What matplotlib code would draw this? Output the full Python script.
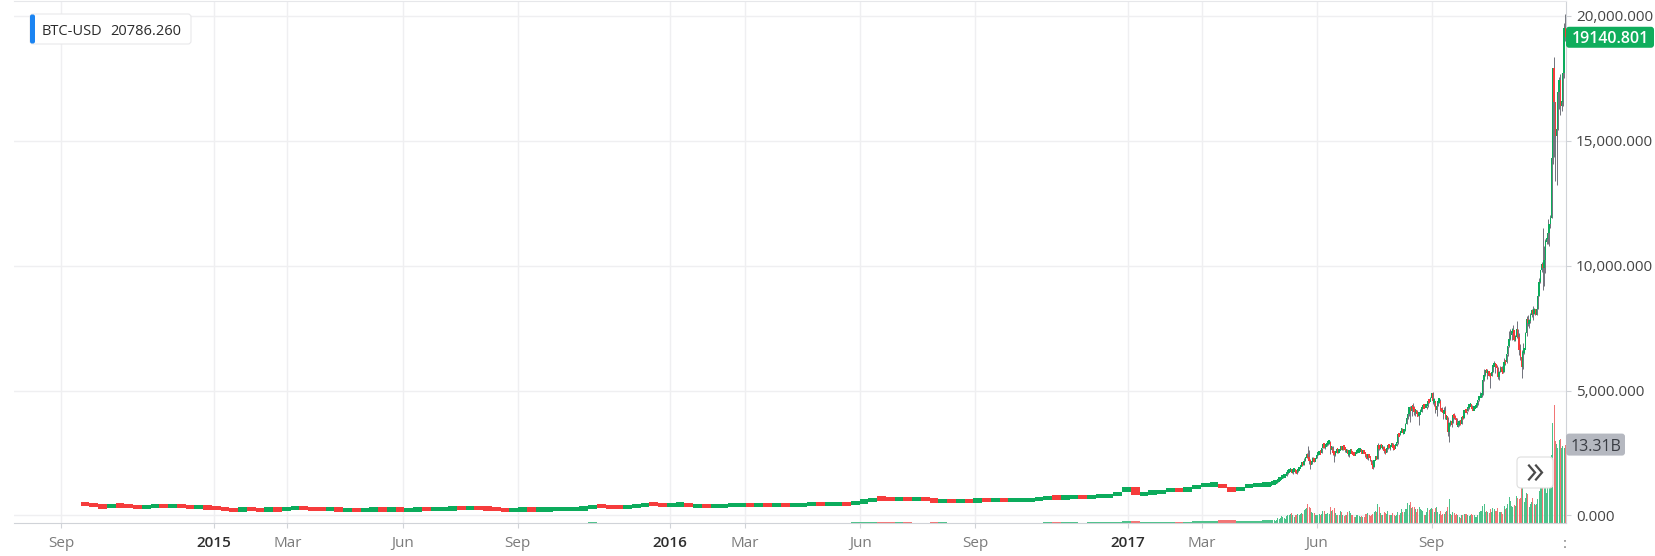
import numpy as np
import pandas as pd
import matplotlib
matplotlib.use("Agg")
import matplotlib.pyplot as plt
import matplotlib.dates as mdates
from matplotlib.patches import FancyBboxPatch
from matplotlib.transforms import IdentityTransform, blended_transform_factory
from matplotlib.lines import Line2D

plt.rcParams['font.family'] = ['Open Sans', 'DejaVu Sans']

# ---------------- data ----------------
TICKER = "BTC-USD"
LEGEND_VALUE = "20786.260"
LAST_PRICE_TEXT = "19140.801"
LAST_VOLUME_TEXT = "13.31B"

# weekly candles (Sep 2014 - Apr 2017), close of each week, USD
weekly_start = "2014-09-17"
weekly_first_open = 465
weekly_close = [
    435, 387, 330, 400, 383, 357, 328, 367, 387, 376,
    381, 352, 327, 334, 311, 286, 225, 211, 263, 227,
    220, 244, 239, 282, 291, 285, 246, 244, 254, 219,
    235, 225, 233, 241, 232, 237, 226, 229, 250, 244,
    263, 270, 288, 277, 294, 285, 270, 232, 221, 228,
    243, 230, 231, 239, 246, 249, 269, 294, 403, 336,
    335, 320, 363, 396, 465, 437, 422, 433, 449, 380,
    392, 373, 373, 401, 419, 432, 412, 416, 412, 424,
    421, 423, 428, 467, 450, 450, 454, 444, 531, 575,
    685, 665, 647, 670, 664, 672, 654, 547, 589, 567,
    583, 576, 610, 609, 609, 606, 610, 618, 638, 657,
    729, 712, 713, 739, 735, 762, 780, 791, 932, 1130,
    800, 900, 922, 970, 1048, 1001, 1080, 1190, 1231, 1240,
    1119, 960, 1141, 1207, 1212, 1265,
]
# average daily volume of each week, millions USD
weekly_volume_m = [
    30, 35, 45, 40, 30, 25, 22, 25, 30, 20,
    18, 15, 20, 15, 12, 15, 40, 60, 40, 30,
    25, 20, 20, 25, 30, 30, 25, 20, 20, 25,
    20, 18, 18, 15, 15, 15, 15, 15, 20, 20,
    20, 25, 25, 20, 20, 20, 30, 35, 25, 20,
    20, 20, 20, 22, 25, 35, 40, 50, 110, 70,
    55, 40, 45, 50, 70, 55, 40, 45, 55, 70,
    50, 60, 55, 60, 70, 65, 60, 55, 50, 45,
    50, 50, 50, 60, 55, 60, 55, 60, 110, 120,
    240, 200, 130, 110, 90, 80, 75, 130, 90, 70,
    60, 60, 65, 60, 55, 55, 60, 60, 70, 75,
    100, 110, 90, 85, 80, 85, 90, 110, 190, 300,
    330, 180, 140, 120, 150, 180, 170, 300, 400, 380,
    500, 450, 420, 350, 380, 450,
]

# daily candles (26 Apr 2017 - 17 Dec 2017)
daily_start = "2017-04-26"
daily_close = [
    1289, 1317, 1317, 1321, 1348,
    1421, 1452, 1490, 1537, 1555, 1578, 1596, 1723, 1755, 1787, 1848, 1724, 1804, 1808, 1739, 1734,
    1839, 1888, 1987, 2084, 2041, 2173, 2320, 2443, 2304, 2202, 2038, 2155, 2255, 2175, 2286,
    2407, 2488, 2515, 2511, 2686, 2863, 2732, 2805, 2823, 2947, 2958, 2659, 2717, 2506, 2464,
    2518, 2655, 2549, 2612, 2745, 2674, 2717, 2710, 2589, 2590, 2478, 2553, 2574, 2539, 2480,
    2434, 2507, 2564, 2601, 2601, 2608, 2518, 2571, 2518, 2373, 2337, 2398, 2357, 2233, 1998, 1929,
    2228, 2318, 2273, 2817, 2667, 2810, 2730, 2754, 2576, 2529, 2671, 2809, 2726, 2757, 2875,
    2718, 2710, 2804, 2895, 3252, 3213, 3378, 3419, 3342, 3381, 3650, 3884, 4073, 4325, 4181, 4376,
    4331, 4160, 4193, 4087, 4001, 4100, 4151, 4334, 4371, 4352, 4382, 4382, 4579, 4565, 4703,
    4892, 4578, 4582, 4236, 4376, 4597, 4599, 4229, 4226, 4122, 4161, 3884, 3961, 3320, 3700,
    3714, 3690, 4035, 3910, 3901, 3631, 3631, 3780, 3660, 3927, 3892, 4200, 4174, 4164, 4338,
    4403, 4409, 4318, 4229, 4328, 4370, 4426, 4611, 4773, 4782, 4820, 5431, 5637, 5828, 5711, 5768,
    5601, 5590, 5708, 6011, 6032, 6008, 5930, 5526, 5750, 5904, 5780, 5753, 6153, 6130, 6468,
    6767, 7078, 7207, 7379, 7407, 7022, 7144, 7459, 7143, 6618, 6357, 5950, 6559, 6635, 7315,
    7871, 7708, 7790, 8036, 8200, 8071, 8253, 8038, 8253, 8791, 9330, 9818, 10058, 9888, 10233,
    10975, 11074, 11323, 11657, 11916, 14291, 17899, 16569, 15178, 15455, 16936, 17415, 16408,
    16565, 17706, 19497, 19141,
]
daily_high = [
    1294, 1332, 1331, 1327, 1352,
    1435, 1473, 1497, 1614, 1599, 1596, 1597, 1737, 1772, 1820, 1870, 1861, 1808, 1830, 1791, 1762,
    1857, 1906, 1987, 2089, 2108, 2290, 2330, 2489, 2760, 2635, 2272, 2329, 2332, 2300, 2311,
    2408, 2491, 2569, 2550, 2686, 2900, 2869, 2822, 2840, 2950, 2975, 2983, 2772, 2786, 2514,
    2526, 2685, 2661, 2622, 2761, 2786, 2730, 2763, 2712, 2644, 2593, 2555, 2608, 2582, 2547,
    2518, 2519, 2596, 2640, 2615, 2616, 2608, 2571, 2573, 2525, 2411, 2412, 2427, 2356, 2232, 2030,
    2231, 2387, 2398, 2900, 2838, 2863, 2814, 2779, 2768, 2610, 2693, 2819, 2813, 2758, 2885,
    2898, 2763, 2811, 2899, 3291, 3274, 3395, 3480, 3422, 3425, 3680, 3950, 4208, 4328, 4397, 4382,
    4485, 4371, 4243, 4211, 4109, 4138, 4255, 4371, 4458, 4379, 4406, 4397, 4625, 4646, 4737,
    4892, 4939, 4714, 4591, 4472, 4647, 4656, 4655, 4323, 4239, 4329, 4395, 3972, 3921, 3733,
    3809, 3748, 4079, 4094, 4032, 3916, 3753, 3814, 3787, 3941, 3975, 4217, 4261, 4188, 4360,
    4403, 4471, 4417, 4359, 4357, 4429, 4461, 4631, 4799, 4922, 4857, 5446, 5857, 5837, 5855, 5788,
    5776, 5609, 5742, 6070, 6194, 6075, 6040, 5935, 5777, 5970, 6001, 5869, 6302, 6214, 6470,
    6768, 7367, 7461, 7492, 7617, 7413, 7207, 7776, 7446, 7312, 6868, 6625, 6882, 6716, 7330,
    7964, 8004, 7871, 8101, 8267, 8370, 8302, 8267, 8336, 8858, 9522, 9818, 10125, 11517, 10801,
    11046, 11287, 11852, 11658, 12033, 14370, 17899, 18353, 16280, 15823, 17405, 17567, 17652,
    17087, 17991, 19716, 20089,
]
daily_low = [
    1255, 1287, 1292, 1304, 1312,
    1346, 1398, 1436, 1490, 1511, 1548, 1536, 1593, 1673, 1742, 1781, 1681, 1662, 1778, 1700, 1675,
    1724, 1840, 1900, 1985, 2011, 2023, 2170, 2317, 2205, 2070, 1850, 2050, 2168, 2130, 2170,
    2283, 2400, 2470, 2491, 2508, 2686, 2688, 2668, 2775, 2822, 2862, 2450, 2632, 2416, 2136,
    2376, 2500, 2510, 2541, 2610, 2631, 2616, 2707, 2550, 2525, 2365, 2332, 2508, 2526, 2468,
    2418, 2412, 2498, 2563, 2559, 2582, 2497, 2493, 2516, 2327, 2264, 2238, 2331, 2181, 1993, 1843,
    1935, 2218, 2242, 2270, 2621, 2654, 2667, 2716, 2480, 2450, 2519, 2651, 2687, 2617, 2724,
    2622, 2669, 2716, 2791, 2874, 3168, 3209, 3356, 3247, 3319, 3374, 3645, 3848, 3989, 3726, 3988,
    4270, 4039, 3970, 4033, 3988, 3601, 4079, 4124, 4306, 4280, 4347, 4249, 4352, 4490, 4568,
    4691, 4470, 4360, 4108, 3972, 4375, 4492, 4179, 4132, 3850, 4142, 3848, 3722, 3166, 2946,
    3561, 3536, 3689, 3868, 3877, 3613, 3554, 3563, 3630, 3675, 3865, 3910, 4123, 4048, 4166,
    4270, 4390, 4254, 4208, 4209, 4319, 4344, 4419, 4561, 4744, 4747, 4822, 5379, 5575, 5462, 5648,
    5575, 5111, 5569, 5724, 5965, 5703, 5723, 5450, 5417, 5749, 5760, 5686, 5732, 6033, 6104,
    6377, 6758, 7002, 7024, 7333, 7000, 6965, 7114, 7057, 6436, 6223, 5519, 5879, 6453, 6672,
    7176, 7600, 7517, 7694, 7962, 7823, 8075, 8038, 8022, 8257, 8775, 9316, 9736, 9009, 9202,
    9694, 10875, 10863, 10771, 11517, 11923, 14057, 14336, 13403, 13226, 15412, 16274, 16039,
    16185, 16395, 17515, 18974,
]
# daily volume, billions USD
daily_volume_b = [
    0.45, 0.50, 0.55, 0.40, 0.45,
    0.80, 0.75, 0.80, 1.2, 1.0, 0.80, 0.70, 1.2, 1.4, 1.3, 1.5, 1.7, 1.3, 1.0, 1.3, 1.3,
    1.5, 1.4, 1.5, 1.7, 1.5, 2.2, 2.4, 2.6, 3.2, 2.8, 2.5, 1.8, 1.7, 1.7, 1.4,
    1.4, 1.4, 1.5, 1.3, 1.5, 2.1, 2.0, 1.5, 1.5, 1.7, 1.5, 2.8, 2.1, 2.2, 2.6,
    1.7, 1.4, 1.4, 1.3, 2.0, 1.8, 1.4, 1.2, 1.3, 1.4, 1.8, 2.0, 1.7, 1.3, 1.3,
    1.1, 1.0, 1.3, 1.4, 1.2, 1.1, 1.2, 1.0, 1.0, 1.5, 1.5, 1.7, 1.4, 1.2, 1.4, 1.5,
    1.8, 2.1, 1.8, 3.2, 2.7, 1.7, 1.4, 1.3, 1.8, 1.7, 1.5, 2.0, 1.4, 1.3, 1.4,
    1.7, 1.3, 1.2, 1.3, 1.8, 1.3, 1.7, 2.4, 1.8, 1.8, 2.4, 2.4, 3.4, 3.0, 3.6, 2.6,
    2.8, 2.8, 2.3, 1.8, 2.3, 2.8, 2.3, 2.2, 2.0, 1.3, 1.3, 1.9, 2.6, 2.2, 2.3,
    2.6, 2.3, 1.9, 2.6, 2.8, 1.9, 1.6, 2.0, 1.3, 1.6, 1.6, 1.8, 2.1, 2.7, 4.1,
    1.5, 1.3, 1.9, 1.7, 1.4, 1.6, 1.3, 1.1, 0.9, 1.3, 1.3, 1.5, 1.5, 1.6, 1.4,
    1.2, 1.4, 1.5, 1.4, 1.3, 1.1, 1.0, 1.3, 1.8, 2.0, 2.1, 2.9, 3.3, 1.9, 2.0, 1.8,
    1.7, 2.3, 1.8, 2.5, 2.4, 2.1, 2.0, 2.5, 1.9, 1.8, 1.8, 1.6, 2.9, 2.4, 2.5,
    3.2, 4.4, 3.8, 2.9, 2.7, 3.1, 2.9, 4.5, 4.2, 4.0, 4.2, 6.6, 5.9, 3.5, 4.2,
    5.1, 5.0, 2.8, 3.3, 3.6, 4.3, 3.3, 3.1, 3.3, 4.1, 5.5, 6.3, 6.8, 7.6, 6.9,
    6.0, 5.1, 6.6, 6.0, 6.3, 11.6, 17.0, 20.0, 13.9, 13.4, 12.7, 14.1, 14.2,
    12.7, 13.0, 12.7, 13.31,
]

price_ticks = [0, 5000, 10000, 15000, 20000]
xtick_dates = ["2014-09-01", "2015-01-01", "2015-03-01", "2015-06-01", "2015-09-01",
               "2016-01-01", "2016-03-01", "2016-06-01", "2016-09-01",
               "2017-01-01", "2017-03-01", "2017-06-01", "2017-09-01"]
xtick_labels = ["Sep", "2015", "Mar", "Jun", "Sep", "2016", "Mar", "Jun", "Sep",
                "2017", "Mar", "Jun", "Sep"]

n_d = len(daily_close)
if not (len(daily_high) == n_d and len(daily_low) == n_d and len(daily_volume_b) == n_d):
    raise SystemExit(f"length mismatch {n_d} {len(daily_high)} {len(daily_low)} {len(daily_volume_b)}")
if len(weekly_volume_m) != len(weekly_close):
    raise SystemExit("weekly length mismatch")

# ---------------- style ----------------
GREEN = "#0cab5c"
RED = "#f53c3c"
VOL_GREEN = "#4cc28a"
VOL_RED = "#f17575"
WICK = "#595c66"
GRID = "#efeff1"
AXIS = "#d0d3d8"
W, H = 1656, 556
L, R, T, B = 14, 1566, 1, 523

# ---------------- build candles ----------------
wk_dates = pd.date_range(weekly_start, periods=len(weekly_close), freq="7D")
wk_x = mdates.date2num(wk_dates) + 3.0
wk_open = np.array([weekly_first_open] + weekly_close[:-1], float)
wk_close = np.array(weekly_close, float)
wk_vol = np.array(weekly_volume_m, float) / 1000.0

dy_dates = pd.date_range(daily_start, periods=n_d, freq="D")
dy_x = mdates.date2num(dy_dates)
dy_open = np.array([weekly_close[-1]] + daily_close[:-1], float)
dy_close = np.array(daily_close, float)
dy_high = np.array(daily_high, float)
dy_low = np.array(daily_low, float)
dy_vol = np.array(daily_volume_b, float)

fig = plt.figure(figsize=(W / 100, H / 100), dpi=100)
fig.patch.set_facecolor("white")
rect = [L / W, (H - B) / H, (R - L) / W, (B - T) / H]
axv = fig.add_axes(rect)
ax = fig.add_axes(rect, sharex=axv)
ax.patch.set_visible(False)

xmin = mdates.date2num(pd.Timestamp("2014-07-25 07:00"))
xmax = mdates.date2num(pd.Timestamp("2017-12-17 12:00"))
ax.set_xlim(xmin, xmax)
ax.set_ylim(-304, 20593)
axv.set_ylim(0, 88.6)

# grid in the background axes
gx = mdates.date2num(pd.to_datetime(xtick_dates))
for x in gx:
    axv.axvline(x, color=GRID, lw=1.0, zorder=0)
htrans = blended_transform_factory(axv.transAxes, ax.transData)
for v in price_ticks:
    axv.add_line(Line2D([0, 1], [v, v], transform=htrans, color=GRID, lw=1.0, zorder=0))

# volume
def vcol(o, c):
    return np.where(c >= o, VOL_GREEN, VOL_RED)

axv.bar(wk_x, wk_vol, width=7.0, color=vcol(wk_open, wk_close), linewidth=0, zorder=1)
axv.bar(dy_x, dy_vol, width=0.85, color=vcol(dy_open, dy_close), linewidth=0, zorder=1)

# candles
ppu = ax.bbox.height / (ax.get_ylim()[1] - ax.get_ylim()[0])
minh = 4.3 / ppu

def bodies(o, c):
    lo = np.minimum(o, c)
    h = np.abs(c - o)
    mid = (o + c) / 2
    small = h < minh
    lo = np.where(small, mid - minh / 2, lo)
    h = np.where(small, minh, h)
    col = np.where(c >= o, GREEN, RED)
    return lo, h, col

ax.vlines(dy_x, dy_low, dy_high, color=WICK, lw=0.6, zorder=2)
lo, h, col = bodies(wk_open, wk_close)
ax.bar(wk_x, h, bottom=lo, width=7.0, color=col, linewidth=0, zorder=3)
lo, h, col = bodies(dy_open, dy_close)
ax.bar(dy_x, h, bottom=lo, width=1.0, color=col, linewidth=0, zorder=3)

# axes styling
for a in (ax, axv):
    for s in a.spines.values():
        s.set_visible(False)
axv.tick_params(left=False, right=False, bottom=False, labelleft=False, labelbottom=False)
ax.spines["bottom"].set_visible(True)
ax.spines["bottom"].set_color(AXIS)
ax.spines["right"].set_visible(True)
ax.spines["right"].set_color(AXIS)
ax.spines["top"].set_visible(True)
ax.spines["top"].set_color("#e6e7ea")

ax.yaxis.tick_right()
ax.set_yticks(price_ticks)
ax.set_yticklabels([f"{v:,.3f}" for v in price_ticks])
ax.tick_params(axis="y", length=3.6, width=0.8, color=AXIS, labelcolor="#454545",
               labelsize=11, pad=3.5)
ax.set_xticks(gx)
ax.set_xticklabels(xtick_labels)
ax.tick_params(axis="x", length=3.6, width=0.8, color=AXIS, labelcolor="#7b7b7b",
               labelsize=11, pad=6)
for lab in ax.get_xticklabels():
    if lab.get_text().isdigit():
        lab.set_fontweight("semibold")
        lab.set_color("#2e2e2e")

ID = IdentityTransform()

# last price label
yd = ax.transData.transform((xmax, daily_close[-1]))[1]
fig.add_artist(FancyBboxPatch((R, yd - 10.5), 88, 21, boxstyle="round,pad=0,rounding_size=3",
                              transform=ID, fc="#0fad5c", ec="none", zorder=10))
fig.text(R + 44, yd, LAST_PRICE_TEXT, transform=ID, ha="center", va="center_baseline",
         color="white", fontsize=11.5, fontweight="semibold", zorder=11)

# last volume label
yv = axv.transData.transform((xmax, daily_volume_b[-1]))[1]
fig.add_artist(FancyBboxPatch((R, yv - 11), 59, 22, boxstyle="round,pad=0,rounding_size=3",
                              transform=ID, fc="#b5b8c0", ec="none", zorder=10))
fig.text(R + 29.5, yv, LAST_VOLUME_TEXT, transform=ID, ha="center", va="center_baseline",
         color="#3a3d44", fontsize=11.5, zorder=11)

# scroll button
bx, by = 1517, H - 488
fig.add_artist(FancyBboxPatch((bx, by), 36, 31, boxstyle="round,pad=0,rounding_size=4",
                              transform=ID, fc="white", ec="#dedede", lw=0.8, zorder=10))
cx, cy = bx + 18, by + 15.5
for dx in (-6, 1):
    fig.add_artist(Line2D([cx + dx, cx + dx + 6, cx + dx], [cy + 7, cy, cy - 7], transform=ID,
                          color="#4a4a4a", lw=1.6, solid_joinstyle="miter", zorder=11))

# legend box
fig.add_artist(FancyBboxPatch((30, H - 44), 161, 30, boxstyle="round,pad=0,rounding_size=3",
                              transform=ID, fc="white", ec="#e8e8ea", lw=0.8, zorder=10))
fig.add_artist(FancyBboxPatch((30, H - 43.5), 5, 29, boxstyle="round,pad=0,rounding_size=2",
                              transform=ID, fc="#1b84f2", ec="none", zorder=11))
fig.text(42, H - 29.5, TICKER, transform=ID, ha="left", va="center_baseline",
         color="#2b2b2b", fontsize=10.5, fontweight="medium", zorder=12)
fig.text(110, H - 29.5, LEGEND_VALUE, transform=ID, ha="left", va="center_baseline",
         color="#2b2b2b", fontsize=10.5, fontweight="medium", zorder=12)

# clipped label at the right end of the time axis
fig.text(1565, H - 545, ":", transform=ID, ha="center", va="center", color="#7b7b7b", fontsize=11)

fig.savefig("out.png", dpi=100, facecolor="white")
